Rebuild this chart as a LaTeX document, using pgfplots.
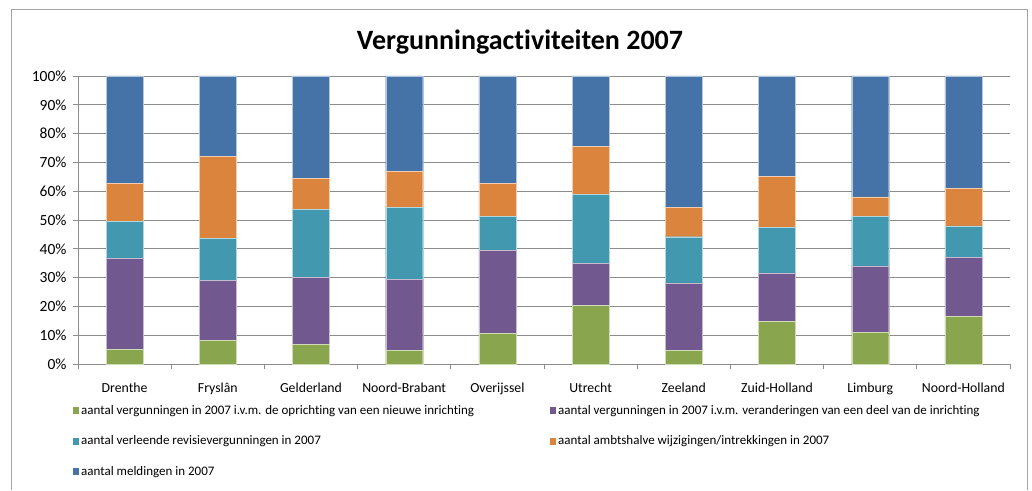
\documentclass[border=0pt]{standalone}
\usepackage{pgfplots}
\pgfplotsset{compat=1.18}
\usepackage{pgfplotstable}
\usepackage{fontspec}
\setmainfont{Carlito}[Ligatures=NoCommon]
\definecolor{cgreen}{HTML}{89A54E}
\definecolor{cpurple}{HTML}{71588F}
\definecolor{cteal}{HTML}{4198AF}
\definecolor{corange}{HTML}{DB843D}
\definecolor{cblue}{HTML}{4572A7}
\definecolor{cgrid}{HTML}{8C8C8C}
\pgfplotstableread{
x nieuw deel revisie ambt meld
0 5.2 31.5 12.8 13.2 37.3
1 8.2 20.9 14.6 28.5 27.8
2 6.8 23.2 23.7 10.7 35.6
3 4.7 24.7 24.9 12.6 33.1
4 10.6 28.9 11.8 11.4 37.3
5 20.4 14.6 23.8 16.8 24.4
6 4.7 23.5 16.0 10.1 45.7
7 14.8 16.8 15.9 17.7 34.8
8 11.1 23.0 17.2 6.7 42.0
9 16.6 20.4 11.0 13.0 39.0
}\data
\begin{document}
\begin{tikzpicture}
\useasboundingbox (0pt,0pt) rectangle (1032pt,490pt);
\draw[cgrid!80,line width=0.8pt] (11pt,0pt) -- (11pt,481pt) -- (1027pt,481pt) -- (1027pt,0pt);
\node[font=\bfseries\fontsize{28}{32}\selectfont] at (520pt,448pt) {Vergunningactiviteiten 2007};
\begin{axis}[
  at={(78pt,126pt)}, anchor=south west,
  width=932pt, height=288pt, scale only axis,
  ybar stacked, bar width=37pt,
  xmin=-0.5, xmax=9.5, ymin=0, ymax=100,
  axis x line*=bottom, axis y line*=left,
  axis line style={cgrid,line width=0.8pt,-},
  ytick={0,10,...,100},
  yticklabel={\pgfmathprintnumber{\tick}\%},
  /pgf/number format/assume math mode=true,
  ymajorgrids, grid style={cgrid,line width=0.8pt},
  major y tick style={cgrid,line width=0.8pt},
  tick align=outside, major tick length=5pt,
  xtick={0,...,9},
  xticklabels={Drenthe,Fryslân,Gelderland,Noord-Brabant,Overijssel,Utrecht,Zeeland,Zuid-Holland,Limburg,Noord-Holland},
  major x tick style={draw=none},
  minor xtick={-0.5,0.5,...,9.5},
  minor x tick style={cgrid,line width=0.8pt},
  minor tick length=5pt,
  yticklabel style={font=\fontsize{15.5}{18}\selectfont,xshift=-3pt},
  xticklabel style={font=\fontsize{13.8}{16}\selectfont,yshift=-10pt},
  legend columns=2,
  legend cell align=left,
  legend style={draw=none, fill=none, inner sep=0pt, at={(-0.0054,-0.135)}, anchor=north west,
    font=\fontsize{13}{15}\selectfont,
    nodes={inner sep=1pt, anchor=west, text height=10pt, text depth=3pt},
    /tikz/every odd column/.style={column sep=1pt},
    row sep=15.5pt},
  legend image code/.code={\fill[#1,draw=none] (0pt,-3.5pt) rectangle (6pt,3.5pt);},
]
\addplot[fill=cgreen,draw=white!60!cgreen,line width=0.4pt] table[x=x,y=nieuw]{\data};
\addplot[fill=cpurple,draw=white!60!cpurple,line width=0.4pt] table[x=x,y=deel]{\data};
\addplot[fill=cteal,draw=white!60!cteal,line width=0.4pt] table[x=x,y=revisie]{\data};
\addplot[fill=corange,draw=white!60!corange,line width=0.4pt] table[x=x,y=ambt]{\data};
\addplot[fill=cblue,draw=white!60!cblue,line width=0.4pt] table[x=x,y=meld]{\data};
\legend{\makebox[468pt][l]{aantal vergunningen in 2007 i.v.m. de oprichting van een nieuwe inrichting},
aantal vergunningen in 2007 i.v.m. veranderingen van een deel van de inrichting,
\makebox[468pt][l]{aantal verleende revisievergunningen in 2007},
aantal ambtshalve wijzigingen/intrekkingen in 2007,
aantal meldingen in 2007}
\end{axis}
\end{tikzpicture}
\end{document}
